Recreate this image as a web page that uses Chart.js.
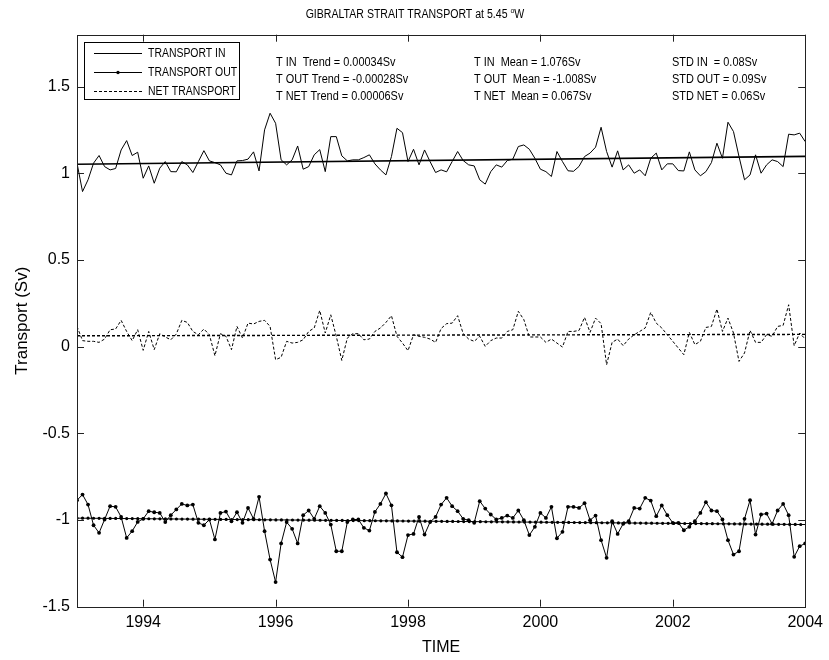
<!DOCTYPE html>
<html><head><meta charset="utf-8">
<script src="https://cdn.jsdelivr.net/npm/chart.js@4/dist/chart.umd.min.js"></script>
<style>html,body{margin:0;padding:0;background:#fff;}</style>
</head><body>
<canvas id="c" width="829" height="660"></canvas>
<script>
// ---------- DATA (monthly, Jan 1993 .. Jan 2004) ----------
const START_YEAR = 1993;
const transportIn = [
1.059,0.895,0.963,1.059,1.103,1.039,1.020,1.028,1.135,1.189,1.103,1.122,
0.972,1.043,0.943,1.030,1.068,1.010,1.009,1.068,1.049,1.005,1.068,1.131,
1.072,1.062,1.049,1.001,0.991,1.072,1.074,1.082,1.124,1.014,1.251,1.347,
1.289,1.078,1.049,1.078,1.158,1.024,1.039,1.107,1.137,1.010,1.212,1.212,
1.101,1.072,1.078,1.078,1.091,1.107,1.055,1.020,0.991,1.097,1.260,1.235,
1.068,1.139,1.049,1.135,1.068,1.005,1.020,1.009,1.068,1.126,1.074,1.049,
1.043,0.963,0.938,1.010,1.049,1.036,1.074,1.082,1.155,1.164,1.139,1.087,
1.024,1.010,0.982,1.126,1.068,1.015,1.012,1.040,1.097,1.117,1.151,1.266,
1.126,1.036,1.130,1.020,1.049,1.001,1.020,0.986,1.087,1.117,1.020,1.055,
1.055,1.016,1.014,1.124,1.020,0.986,1.010,1.062,1.174,1.087,1.295,1.241,
1.097,0.963,0.991,1.107,1.001,1.049,1.078,1.068,1.039,1.226,1.222,1.232,
1.183];
const transportOut = [
-0.886,-0.853,-0.911,-1.030,-1.074,-0.997,-0.920,-0.924,-0.982,-1.103,-1.064,-1.011,
-0.993,-0.949,-0.955,-0.959,-1.012,-0.972,-0.939,-0.907,-0.916,-0.911,-1.016,-1.030,
-0.997,-1.112,-0.959,-0.951,-1.007,-0.955,-1.016,-0.930,-0.993,-0.866,-1.064,-1.228,
-1.358,-1.135,-1.012,-1.051,-1.135,-0.972,-0.945,-0.993,-0.920,-0.959,-1.026,-1.180,
-1.180,-1.012,-0.997,-0.997,-1.045,-1.061,-0.953,-0.907,-0.847,-0.915,-1.186,-1.214,
-1.087,-1.080,-0.982,-1.084,-1.012,-0.982,-0.911,-0.872,-0.920,-0.949,-0.993,-1.001,
-1.016,-0.891,-0.934,-0.968,-0.997,-0.988,-0.974,-0.988,-0.945,-1.001,-1.087,-1.039,
-0.959,-0.988,-0.924,-1.105,-1.068,-0.924,-0.924,-0.930,-0.903,-1.001,-0.974,-1.116,
-1.218,-1.007,-1.080,-1.022,-1.007,-0.930,-0.934,-0.872,-0.888,-0.978,-0.916,-0.972,
-1.016,-1.016,-1.059,-1.039,-1.007,-0.959,-0.897,-0.945,-0.949,-0.997,-1.116,-1.199,
-1.180,-0.993,-0.886,-1.084,-0.968,-0.963,-1.022,-0.945,-0.907,-0.972,-1.212,-1.151,
-1.135];
const netTransport = [
0.117,0.035,0.031,0.031,0.025,0.044,0.098,0.102,0.152,0.088,0.035,0.098,
-0.021,0.088,-0.017,0.075,0.056,0.040,0.073,0.152,0.140,0.088,0.069,0.102,
0.069,-0.052,0.075,0.060,-0.017,0.117,0.050,0.136,0.131,0.146,0.152,0.117,
-0.075,-0.061,0.031,0.021,0.025,0.040,0.088,0.108,0.209,0.079,0.184,0.060,
-0.079,0.050,0.075,0.075,0.040,0.044,0.088,0.108,0.140,0.179,0.060,0.021,
-0.023,0.069,0.060,0.054,0.044,0.025,0.105,0.133,0.136,0.179,0.075,0.044,
0.031,0.060,0.002,0.035,0.050,0.050,0.088,0.098,0.204,0.156,0.056,0.056,
0.056,0.025,0.044,0.021,-0.002,0.088,0.088,0.094,0.169,0.083,0.165,0.133,
-0.104,0.025,0.044,0.006,0.044,0.069,0.088,0.108,0.198,0.136,0.108,0.069,
0.031,-0.008,-0.046,0.083,0.012,0.031,0.111,0.117,0.217,0.088,0.165,0.079,
-0.085,-0.036,0.094,0.025,0.025,0.069,0.060,0.117,0.123,0.242,0.006,0.079,
0.044];
const trendYears = [1993, 2004];
const inTrend  = [1.053, 1.098];
const outTrend = [-0.989, -1.026];
const netTrend = [0.063, 0.071];
const xTickYears  = [1994, 1996, 1998, 2000, 2002, 2004];
const yTickValues = [-1.5, -1, -0.5, 0, 0.5, 1, 1.5];
const yTickLabels = ['-1.5', '-1', '-0.5', '0', '0.5', '1', '1.5'];
const legendLabels = ['TRANSPORT IN', 'TRANSPORT OUT', 'NET TRANSPORT'];
const statsText = [
  ['T IN  Trend = 0.00034Sv', 'T OUT Trend = -0.00028Sv', 'T NET Trend = 0.00006Sv'],
  ['T IN  Mean = 1.076Sv', 'T OUT  Mean = -1.008Sv', 'T NET  Mean = 0.067Sv'],
  ['STD IN  = 0.08Sv', 'STD OUT = 0.09Sv', 'STD NET = 0.06Sv']
];
const titleText = ['GIBRALTAR STRAIT TRANSPORT at 5.45 ', 'o', 'W'];

// ---------- helpers ----------
const FONT = "'Liberation Sans', Arial, sans-serif";
const toXY = arr => arr.map((v, i) => ({x: START_YEAR + i / 12, y: v}));
const trendXY = arr => arr.map((v, i) => ({x: trendYears[i], y: v}));

// narrow text: real text, horizontally condensed like Helvetica Narrow
function narrowText(ctx, t, x, y, size, squeeze) {
  ctx.save();
  ctx.font = size + 'px ' + FONT;
  ctx.translate(x, y);
  ctx.scale(squeeze, 1);
  ctx.fillText(t, 0, 0);
  ctx.restore();
  ctx.font = size + 'px ' + FONT;
  return ctx.measureText(t).width * squeeze;
}

const decorPlugin = {
  id: 'decor',
  afterDatasetsDraw(chart) {
    const {ctx, chartArea: a, scales: {x, y}} = chart;
    ctx.save();
    ctx.strokeStyle = '#222';
    ctx.lineWidth = 1;
    ctx.strokeRect(Math.round(a.left) + 0.5, Math.round(a.top) + 0.5,
                   Math.round(a.right - a.left), Math.round(a.bottom - a.top));
    const TL = 7;
    ctx.beginPath();
    xTickYears.forEach(v => {
      const px = Math.round(x.getPixelForValue(v)) + 0.5;
      ctx.moveTo(px, a.bottom); ctx.lineTo(px, a.bottom - TL);
      ctx.moveTo(px, a.top); ctx.lineTo(px, a.top + TL);
    });
    yTickValues.forEach(v => {
      const py = Math.round(y.getPixelForValue(v)) + 0.5;
      ctx.moveTo(a.left, py); ctx.lineTo(a.left + TL, py);
      ctx.moveTo(a.right, py); ctx.lineTo(a.right - TL, py);
    });
    ctx.stroke();
    ctx.restore();
  },
  afterDraw(chart) {
    const {ctx} = chart;
    ctx.save();
    ctx.fillStyle = '#000';
    // title with superscript "o"
    ctx.textBaseline = 'alphabetic';
    const SQ = 0.88;
    ctx.font = '12px ' + FONT;
    const w0 = ctx.measureText(titleText[0]).width * SQ;
    ctx.font = '8px ' + FONT;
    const w1 = ctx.measureText(titleText[1]).width * SQ;
    ctx.font = '12px ' + FONT;
    const w2 = ctx.measureText(titleText[2]).width * SQ;
    let tx = 415 - (w0 + w1 + w2) / 2;
    narrowText(ctx, titleText[0], tx, 18, 12, SQ); tx += w0;
    narrowText(ctx, titleText[1], tx, 13, 8, SQ); tx += w1;
    narrowText(ctx, titleText[2], tx, 18, 12, SQ);

    // stats text
    ctx.textBaseline = 'middle';
    const colX = [276, 474, 672], rowY = [63, 80, 97];
    statsText.forEach((col, ci) => col.forEach((t, ri) => narrowText(ctx, t, colX[ci], rowY[ri], 12, 0.91)));

    // legend
    const bx = 84.5, by = 42.5, bw = 155, bh = 57;
    ctx.fillStyle = '#fff';
    ctx.fillRect(bx, by, bw, bh);
    ctx.strokeStyle = '#000'; ctx.lineWidth = 1;
    ctx.strokeRect(bx, by, bw, bh);
    const ly = [53.5, 72.5, 91.5];
    const lx0 = 94, lx1 = 142;
    ctx.beginPath(); ctx.moveTo(lx0, ly[0]); ctx.lineTo(lx1, ly[0]); ctx.stroke();
    ctx.beginPath(); ctx.moveTo(lx0, ly[1]); ctx.lineTo(lx1, ly[1]); ctx.stroke();
    ctx.fillStyle = '#000';
    ctx.beginPath(); ctx.arc((lx0 + lx1) / 2, ly[1], 1.7, 0, Math.PI * 2); ctx.fill();
    ctx.setLineDash([3, 2]);
    ctx.beginPath(); ctx.moveTo(lx0, ly[2]); ctx.lineTo(lx1, ly[2]); ctx.stroke();
    ctx.setLineDash([]);
    ctx.textBaseline = 'middle';
    legendLabels.forEach((t, i) => narrowText(ctx, t, 148, ly[i], 12, 0.87));
    ctx.restore();
  }
};

new Chart(document.getElementById('c'), {
  type: 'line',
  data: {
    datasets: [
      {data: toXY(transportIn), borderColor: '#000', borderWidth: 1, pointRadius: 0, tension: 0},
      {data: toXY(transportOut), borderColor: '#000', borderWidth: 1, pointRadius: 1.9,
       pointBackgroundColor: '#000', pointBorderWidth: 0, tension: 0},
      {data: toXY(netTransport), borderColor: '#000', borderWidth: 1, borderDash: [3, 2], pointRadius: 0, tension: 0},
      {data: trendXY(inTrend), borderColor: '#000', borderWidth: 1.6, pointRadius: 0},
      {data: trendXY(outTrend), borderColor: '#000', borderWidth: 1, pointRadius: 0},
      {data: trendXY(outTrend), borderColor: '#000', borderWidth: 3.2, borderDash: [0, 5.525],
       borderCapStyle: 'round', pointRadius: 0},
      {data: trendXY(netTrend), borderColor: '#000', borderWidth: 1.4, borderDash: [3, 2], pointRadius: 0}
    ]
  },
  options: {
    responsive: false, animation: false, devicePixelRatio: 1,
    layout: {padding: {top: 34.7, right: 23, bottom: 0, left: 0}},
    plugins: {legend: {display: false}, tooltip: {enabled: false}, title: {display: false}},
    scales: {
      x: {
        type: 'linear', min: 1993, max: 2004,
        afterBuildTicks: s => { s.ticks = xTickYears.map(v => ({value: v})); },
        afterFit: s => { s.height = 660 - 606.7; },
        ticks: {callback: v => String(v), font: {family: FONT, size: 16}, color: '#000',
                padding: 6, maxRotation: 0, autoSkip: false},
        grid: {display: false, drawTicks: false}, border: {display: false},
        title: {display: true, text: 'TIME', font: {family: FONT, size: 16}, color: '#000',
                padding: {top: 0, bottom: 3}}
      },
      y: {
        type: 'linear', min: -1.5, max: 1.8,
        afterBuildTicks: s => { s.ticks = yTickValues.map(v => ({value: v})); },
        afterFit: s => { s.width = 77; },
        ticks: {callback: v => yTickLabels[yTickValues.indexOf(v)], font: {family: FONT, size: 16},
                color: '#000', padding: 7, autoSkip: false},
        grid: {display: false, drawTicks: false}, border: {display: false},
        title: {display: true, text: 'Transport (Sv)', font: {family: FONT, size: 17}, color: '#000',
                padding: {top: 12, bottom: 0}}
      }
    }
  },
  plugins: [decorPlugin]
});
</script>
</body></html>
